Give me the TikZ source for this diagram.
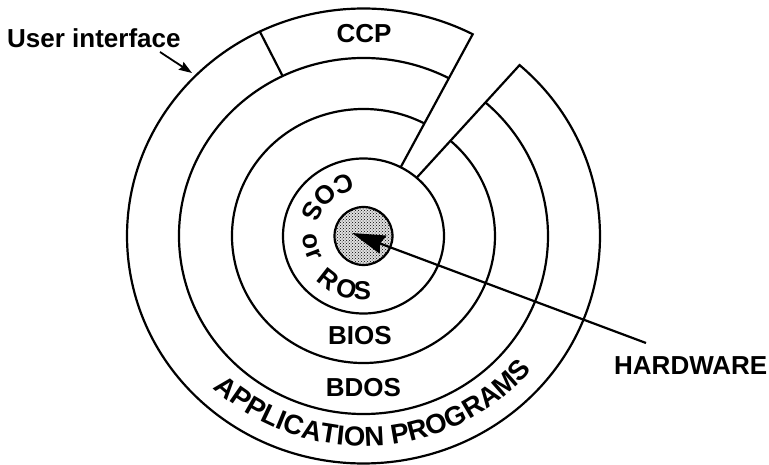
\documentclass[tikz,border=0pt]{standalone}
\usepackage{fontspec}
\setmainfont{Liberation Sans}
\usetikzlibrary{arrows.meta,decorations.text,patterns}
\newcommand\lblfont{\fontsize{26}{30}\selectfont\bfseries}
\newcommand\arcfont{\fontsize{27.5}{31}\selectfont\bfseries}
\begin{document}
\begin{tikzpicture}[x=1pt,y=1pt,
  ring/.style={line width=2.2pt, line join=miter},
  lbl/.style={font=\lblfont, inner sep=0pt},
  hwdisk/.style={draw, line width=2.2pt, circle, preaction={fill=black!12}, pattern=crosshatch dots, minimum size=58pt, inner sep=0pt},
  bigarrow/.style={line width=2.2pt, -{Stealth[length=33pt,width=19pt,inset=3pt]}},
  smallarrow/.style={line width=1.8pt, -{Stealth[length=13pt,width=9pt,inset=1.5pt]}}
]
\useasboundingbox (0,0) rectangle (769,464);
\coordinate (C) at (363.5,228);

\begin{scope}[shift={(C)}]
  % outer ring (user interface + application programs) with the wedge gap
  \draw[ring] (48.7:80.5 and 77.5) -- (48.7:236.5 and 227.5)
      arc[start angle=48.7, end angle=-297.5, x radius=236.5, y radius=227.5]
      -- (62.5:80.5 and 77.5);
  % BDOS and BIOS circles, cut by the wedge
  \draw[ring] (62.5:184.5 and 178) arc[start angle=62.5, end angle=408.7, x radius=184.5, y radius=178];
  \draw[ring] (62.5:131.5 and 127) arc[start angle=62.5, end angle=408.7, x radius=131.5, y radius=127];
  % COS / ROS circle
  \draw[ring] (0,0) ellipse[x radius=80.5, y radius=77.5];
  % CCP separator
  \draw[ring] (116:184.5 and 178) -- (116:236.5 and 227.5);

  % APPLICATION PROGRAMS along the bottom
  \path[decorate, decoration={text along path, text align=center,
        text={|\arcfont|APPLICATION PROGRAMS}}]
    (203.5:218.4 and 210) arc[start angle=203.5, end angle=343.5, x radius=218.4, y radius=210];

  % COS or ROS, letter by letter
  \foreach \ch/\a/\rx/\ry [count=\i] in {C/110/66.6/64, O/132/66.6/64, S/153/66.6/64,
      o/186.5/60.3/58, r/201/60.3/58, R/232/66.6/64, O/253/66.6/64, S/269/66.6/64}
    \node[lbl, anchor=base, rotate=\a+90] (cr\i) at ({\a}:{\rx} and {\ry}) {\ch};
\end{scope}

% hardware core
\node[hwdisk] (hw) at (C) {};

% labels
\node[lbl, anchor=base west] (ui) at (7,416) {User interface};
\node[lbl, anchor=base] (ccp) at (364,421) {CCP};
\node[lbl, anchor=base east] (hwl) at (767.5,89) {HARDWARE};
\node[lbl, anchor=base] (bios) at (360,119) {BIOS};
\node[lbl, anchor=base] (bdos) at (363.5,67.3) {BDOS};

% connectors
\coordinate (uifrom) at (160,412);
\coordinate (uito) at (192,391);
\draw[smallarrow] (uifrom) -- (uito);
\coordinate (hwfrom) at (646,121);
\coordinate (hwtip) at (352,231);
\draw[bigarrow] (hwfrom) -- (hwtip);
\end{tikzpicture}
\end{document}
